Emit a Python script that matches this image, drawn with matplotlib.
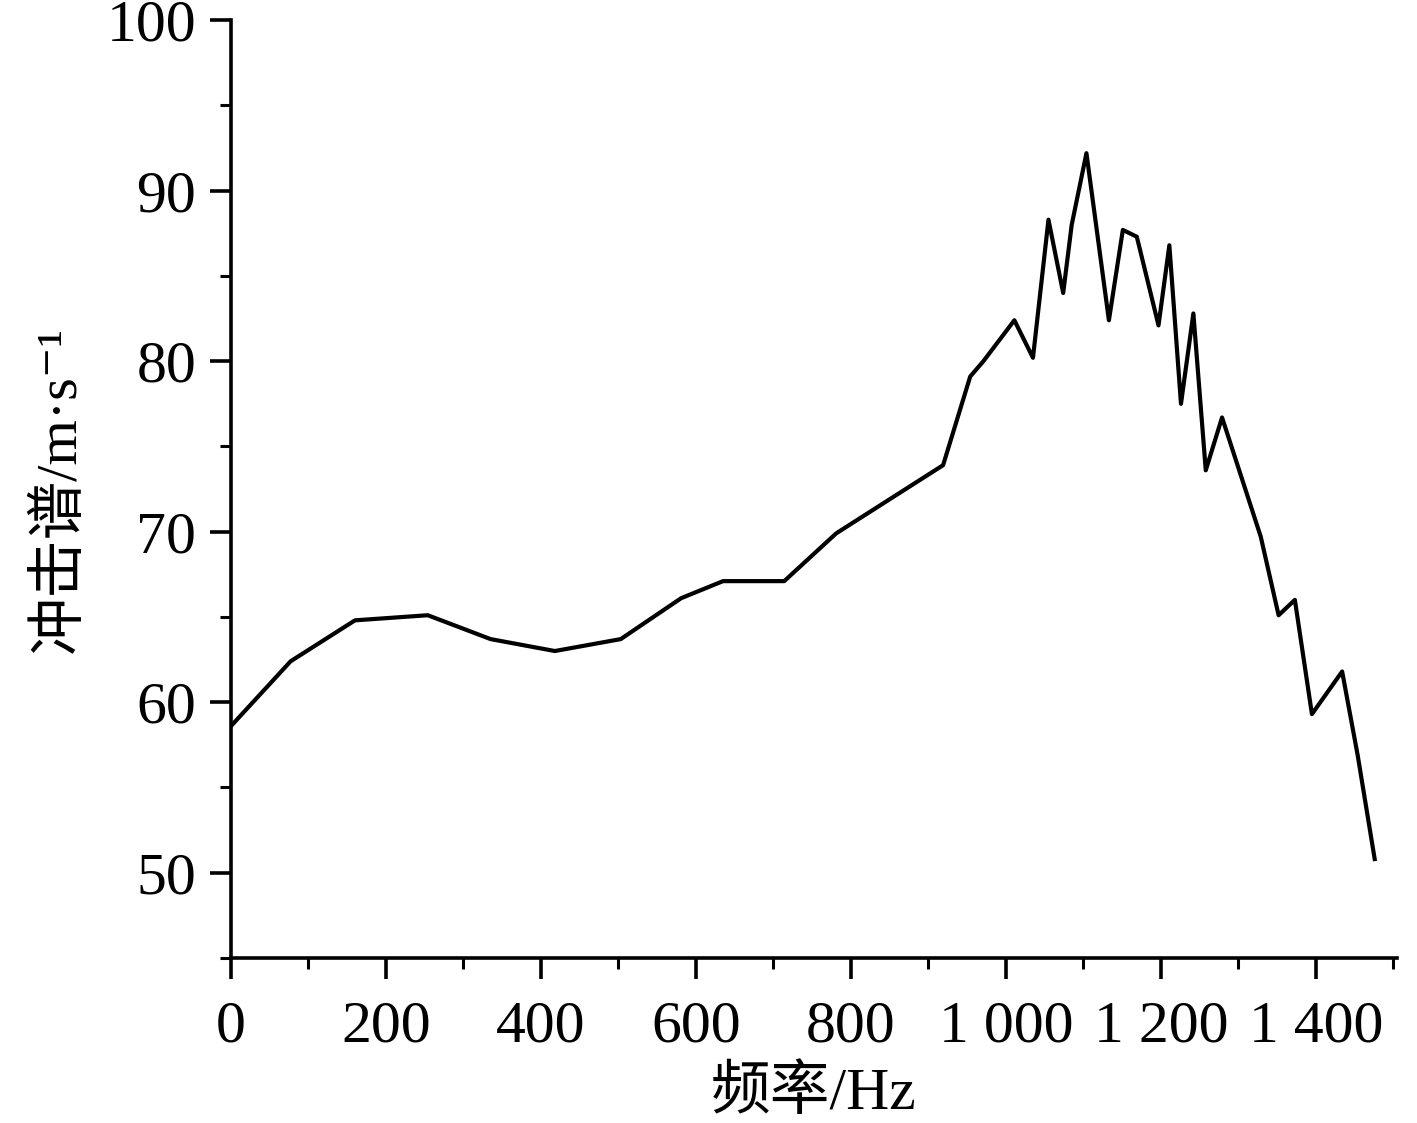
import matplotlib
matplotlib.use('Agg')
import matplotlib.pyplot as plt
from matplotlib.ticker import MultipleLocator, FuncFormatter

plt.rcParams['font.family'] = ['Liberation Serif', 'Noto Sans CJK SC', 'DejaVu Serif']

# frequency (Hz) and shock spectrum (m/s)
freq = [0, 77, 160, 254, 335, 418, 503, 581, 635, 714, 781, 919, 954, 971,
        1011, 1035, 1055, 1074, 1085, 1104, 1133, 1151, 1169, 1197, 1211,
        1226, 1242, 1258, 1279, 1329, 1352, 1373, 1395, 1434, 1454, 1476]
spectrum = [58.6, 62.4, 64.8, 65.1, 63.7, 63.0, 63.7, 66.1, 67.1, 67.1, 69.9,
            73.9, 79.1, 80.0, 82.4, 80.2, 88.3, 84.0, 88.0, 92.2, 82.4, 87.7,
            87.3, 82.1, 86.8, 77.5, 82.8, 73.6, 76.7, 69.7, 65.1, 66.0, 59.3,
            61.8, 56.9, 50.8]

fig = plt.figure(figsize=(14.17, 11.23), dpi=100)
ax = fig.add_axes([0.163, 0.147, 0.823, 0.835])

ax.plot(freq, spectrum, color='black', linewidth=3.0)

ax.set_xlim(0, 1505)
ax.set_ylim(45, 100)

ax.xaxis.set_major_locator(MultipleLocator(200))
ax.xaxis.set_minor_locator(MultipleLocator(100))
ax.yaxis.set_major_locator(MultipleLocator(10))
ax.yaxis.set_minor_locator(MultipleLocator(5))


def thousands(v, pos):
    s = '%d' % v
    if len(s) > 3:
        s = s[:-3] + ' ' + s[-3:]
    return s


ax.xaxis.set_major_formatter(FuncFormatter(thousands))

for side in ['top', 'right']:
    ax.spines[side].set_visible(False)
for side in ['left', 'bottom']:
    ax.spines[side].set_linewidth(2.6)

ax.tick_params(which='major', direction='out', length=15, width=2.6,
               labelsize=43)
ax.tick_params(axis='y', which='major', pad=10)
ax.tick_params(axis='x', which='major', pad=16)
ax.tick_params(which='minor', direction='out', length=8, width=2.2)

ax.set_xlabel('频率/Hz', fontsize=43, labelpad=8)
ax.set_ylabel('冲击谱/m·s⁻¹', fontsize=42, labelpad=14)

fig.savefig('out.png', dpi=100)
